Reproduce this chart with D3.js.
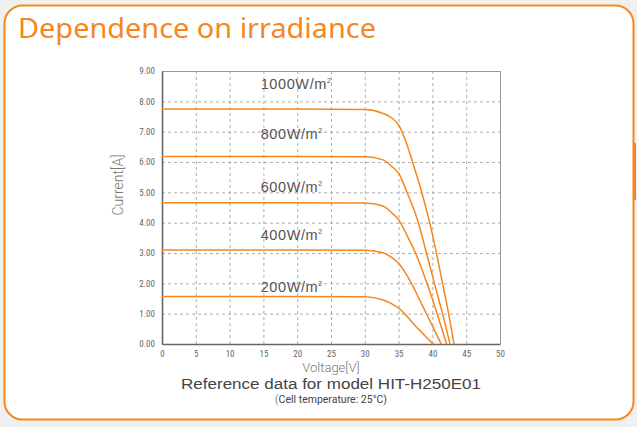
<!DOCTYPE html>
<html>
<head>
<meta charset="utf-8">
<script src="https://d3js.org/d3.v7.min.js"></script>
<style>
  body { margin: 0; background: #f0f0f0; }
  svg { display: block; }
</style>
</head>
<body>
<div id="chart"></div>
<script>
// irradiance levels and read-off I-V points
var irradiance = [1000, 800, 600, 400, 200]
var labelCurrent = [8.6, 6.95, 5.2, 3.6, 1.9]

var v1000 = [0, 10, 20, 30, 32.7, 34, 35, 35.9, 37.2, 38.4, 39.5, 40.5, 41.5, 42.4, 43.2]
var i1000 = [7.75, 7.75, 7.75, 7.73, 7.6, 7.45, 7.22, 6.78, 5.9, 5.02, 4.09, 3.1, 2.0, 1.0, 0]

var v800 = [0, 10, 20, 30, 32.7, 34, 35, 36.4, 37.8, 39, 40.3, 41.5, 42.6]
var i800 = [6.18, 6.18, 6.18, 6.17, 6.07, 5.85, 5.63, 4.91, 4.09, 3.1, 2.0, 1.0, 0]

var v600 = [0, 10, 20, 30, 32.7, 34, 35, 36.2, 37.5, 39.2, 40.7, 42.1]
var i600 = [4.66, 4.66, 4.66, 4.65, 4.55, 4.32, 4.1, 3.6, 3.0, 2.0, 1.0, 0]

var v400 = [0, 10, 20, 30, 32.7, 34, 35, 36.9, 38.6, 40, 41.3]
var i400 = [3.10, 3.10, 3.10, 3.09, 3.01, 2.85, 2.66, 2.0, 1.23, 0.6, 0]

var v200 = [0, 10, 20, 30, 32.7, 34, 35, 37.6, 39, 40.1]
var i200 = [1.57, 1.57, 1.57, 1.56, 1.45, 1.32, 1.18, 0.57, 0.25, 0]

var xTicks = [0, 5, 10, 15, 20, 25, 30, 35, 40, 45, 50]
var yTicks = [0, 1, 2, 3, 4, 5, 6, 7, 8, 9]

var curves = [
  { irr: 1000, v: v1000, i: i1000 },
  { irr: 800,  v: v800,  i: i800 },
  { irr: 600,  v: v600,  i: i600 },
  { irr: 400,  v: v400,  i: i400 },
  { irr: 200,  v: v200,  i: i200 }
]

var W = 637, H = 427
var plot = { left: 162, right: 500, top: 71, bottom: 344 }
var orange = "#f7861e"

var svg = d3.select("#chart").append("svg")
  .attr("width", W).attr("height", H)

// panel
svg.append("rect")
  .attr("x", 4.5).attr("y", 5.5)
  .attr("width", 629).attr("height", 414)
  .attr("rx", 18).attr("ry", 18)
  .attr("fill", "#fff")
  .attr("stroke", orange).attr("stroke-width", 2)

svg.append("rect")
  .attr("x", 633).attr("y", 143).attr("width", 3).attr("height", 57)
  .attr("fill", orange)

svg.append("text")
  .attr("x", 18).attr("y", 38)
  .attr("font-family", "Noto Sans")
  .attr("font-size", 27)
  .attr("textLength", 358)
  .attr("lengthAdjust", "spacingAndGlyphs")
  .attr("fill", orange)
  .text("Dependence on irradiance")

var x = d3.scaleLinear().domain([0, 50]).range([plot.left, plot.right])
var y = d3.scaleLinear().domain([0, 9]).range([plot.bottom, plot.top])

var g = svg.append("g")

// grid
g.selectAll(".vgrid").data(xTicks.slice(1, -1)).enter().append("line")
  .attr("x1", d => x(d) + 0.5).attr("x2", d => x(d) + 0.5)
  .attr("y1", plot.top).attr("y2", plot.bottom)
  .attr("stroke", "#9a9a9a").attr("stroke-width", 0.8)
  .attr("stroke-dasharray", "3,3")

g.selectAll(".hgrid").data(yTicks.slice(1, -1)).enter().append("line")
  .attr("y1", d => y(d) + 0.5).attr("y2", d => y(d) + 0.5)
  .attr("x1", plot.left).attr("x2", plot.right)
  .attr("stroke", "#9a9a9a").attr("stroke-width", 0.8)
  .attr("stroke-dasharray", "3,3")

// frame
g.append("line").attr("x1", plot.left).attr("x2", plot.right)
  .attr("y1", plot.top + 0.5).attr("y2", plot.top + 0.5)
  .attr("stroke", "#999").attr("stroke-width", 1)
g.append("line").attr("x1", plot.right + 0.5).attr("x2", plot.right + 0.5)
  .attr("y1", plot.top).attr("y2", plot.bottom)
  .attr("stroke", "#999").attr("stroke-width", 1)

// axes
var xAxis = d3.axisBottom(x).tickValues(xTicks).tickSize(0).tickPadding(6)
var yAxis = d3.axisLeft(y).tickValues(yTicks).tickSize(0).tickPadding(7)
  .tickFormat(d3.format(".2f"))

var gx = svg.append("g").attr("transform", "translate(0," + plot.bottom + ")").call(xAxis)
var gy = svg.append("g").attr("transform", "translate(" + plot.left + ",0)").call(yAxis)
;[gx, gy].forEach(function(a) {
  a.select(".domain").attr("stroke", "#666").attr("stroke-width", 1.6)
  a.selectAll("text").attr("fill", "#666").attr("font-family", "Roboto")
    .attr("font-size", 9).attr("font-stretch", "condensed")
})
gx.selectAll("text").attr("dy", "0.8em")

// curves
var line = d3.line()
  .x(d => x(d[0])).y(d => y(d[1]))
  .curve(d3.curveMonotoneX)

curves.forEach(function(c, k) {
  var pts = c.v.map((v, j) => [v, c.i[j]])
  svg.append("path")
    .attr("d", line(pts))
    .attr("fill", "none")
    .attr("stroke", orange)
    .attr("stroke-width", 1.5)

  var lbl = svg.append("text")
    .attr("x", x(14.6))
    .attr("y", y(labelCurrent[k]))
    .attr("dy", "0.38em")
    .attr("font-family", "Liberation Sans")
    .attr("font-size", 14.5)
    .attr("letter-spacing", 0.6)
    .attr("fill", "#555")
  lbl.append("tspan").text(c.irr + "W/m")
  lbl.append("tspan").attr("font-size", 7).attr("dy", -6).text("2")
})

// axis titles
svg.append("text")
  .attr("transform", "translate(123,185) rotate(-90)")
  .attr("text-anchor", "middle")
  .attr("font-family", "Roboto").attr("font-size", 14).attr("font-weight", 300)
  .attr("fill", "#777")
  .text("Current[A]")

svg.append("text")
  .attr("x", 331).attr("y", 372)
  .attr("text-anchor", "middle")
  .attr("font-family", "Roboto").attr("font-size", 13).attr("font-weight", 300)
  .attr("fill", "#777")
  .text("Voltage[V]")

svg.append("text")
  .attr("x", 331).attr("y", 389)
  .attr("text-anchor", "middle")
  .attr("font-family", "Liberation Sans").attr("font-size", 14)
  .attr("textLength", 300)
  .attr("lengthAdjust", "spacingAndGlyphs")
  .attr("fill", "#444")
  .text("Reference data for model HIT-H250E01")

var note = svg.append("text")
  .attr("x", 331).attr("y", 403)
  .attr("text-anchor", "middle")
  .attr("font-family", "Roboto").attr("font-size", 10.5)
  .attr("fill", "#444")
note.append("tspan").attr("font-size", 11).attr("font-weight", 300).text("(")
note.append("tspan").text("Cell temperature: 25°C)")
</script>
</body>
</html>
